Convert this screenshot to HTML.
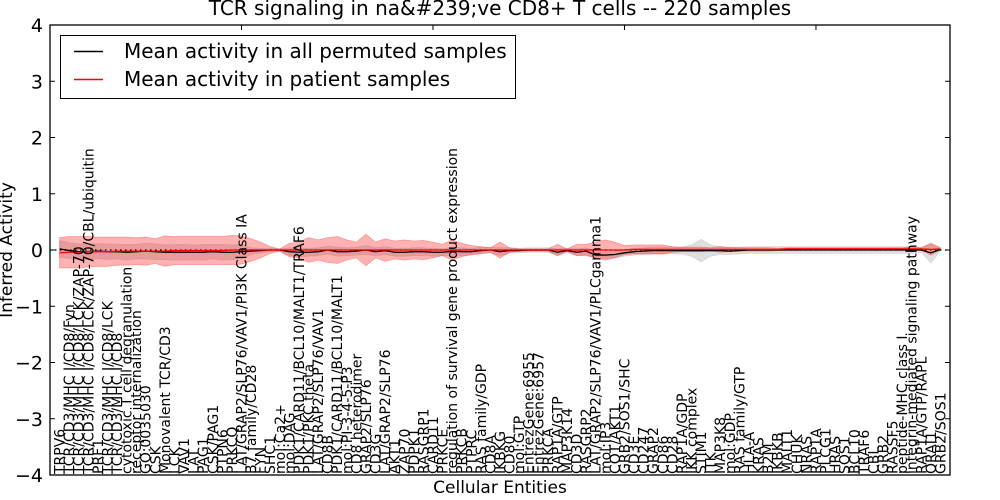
<!DOCTYPE html>
<html><head><meta charset="utf-8"><style>
body{margin:0;background:#fff}
svg{display:block;font-family:"DejaVu Sans","Liberation Sans",sans-serif}
</style></head><body>
<svg id="chart" width="1000" height="500" viewBox="0 0 1000 500" xmlns="http://www.w3.org/2000/svg">
<rect width="1000" height="500" fill="#fff"/>
<text x="500" y="15" text-anchor="middle" font-size="20">TCR signaling in na&amp;#239;ve CD8+ T cells -- 220 samples</text>
<g id="bands"></g>
<g id="lines"></g>
<g id="labels"></g>
<g id="axes"></g>
<text x="500" y="493" text-anchor="middle" font-size="17">Cellular Entities</text>
<text x="0" y="0" transform="translate(12,250) rotate(-90)" text-anchor="middle" font-size="17">Inferred Activity</text>
<g>
<rect x="60.5" y="35.5" width="455" height="63" fill="#fff" stroke="#000" stroke-width="1"/>
<line x1="74" y1="51.5" x2="103" y2="51.5" stroke="#000" stroke-width="1.5"/>
<text x="124" y="58" font-size="20">Mean activity in all permuted samples</text>
<line x1="74" y1="79.5" x2="103" y2="79.5" stroke="#f00" stroke-width="1.5"/>
<text x="124" y="86" font-size="20">Mean activity in patient samples</text>
</g>
</svg>
<script>
const categories = ["TRPV6","TCR/CD3/MHC I/CD8/Fyn","TCR/CD3/MHC I/CD8/LCK/ZAP-70","TCR/CD3/MHC I/CD8/LCK/ZAP-70/CBL/ubiquitin","PRF1","TCR/CD3/MHC I/CD8/LCK","TCR/CD3/MHC I/CD8","cytotoxic T cell degranulation","receptor internalization","GO:0035030","CSK","Monovalent TCR/CD3","LCK","VAV1","LAT","PAG1","CSK/PAG1","PTPN6","PRKCQ","LAT/GRAP2/SLP76/VAV1/PI3K Class IA","B7 family/CD28","FYN","SHC1","mol:Ca2+","mol:DAG","PDK1/CARD11/BCL10/MALT1/TRAF6","PDK1/PKC theta","LAT/GRAP2/SLP76/VAV1","CD8B","PDK1/CARD11/BCL10/MALT1","mol:PI-3-4-5-P3","CD8 heterodimer","GRAP2/SLP76","CD3G","LAT/GRAP2/SLP76","AKT1","ZAP70","PDPK1","RASGRP1","CARD11","PRKCE","regulation of survival gene product expression","PRKCB","PTPRC","RAS family/GDP","CD8A","IKBKG","CD80","mol:GTP","EntrezGene:6955","EntrezGene:6957","PRKCA","RAP1A/GTP","MAP3K14","CD3D","RASGRP2","LAT/GRAP2/SLP76/VAV1/PLCgamma1","mol:IP3","COT/AKT1","GRB2/SOS1/SHC","CD3E","CD247","GRAP2","CD86","CD28","RAP1A/GDP","IKK complex","STIM1","ITK","MAP3K8","mol:GDP","RAS family/GTP","HLA-A","KRAS","B2M","IKBKB","MALT1","CHUK","NRAS","RAP1A","PLCG1","HRAS","SOS1","BCL10","TRAF6","CBL","GRB2","RASSF5","peptide-MHC class I","integrin-mediated signaling pathway","RAP1A/GTP/RAPL","ORAI1","GRB2/SOS1"];
const patientMean = [-0.05,-0.04,-0.04,-0.03,-0.03,-0.03,-0.02,-0.02,-0.02,-0.02,-0.02,-0.02,-0.01,-0.01,-0.01,-0.01,-0.01,-0.01,0.0,0.0,0.0,0.0,0.0,0.0,0.0,0.0,0.0,0.0,0.0,0.0,0.0,0.0,0.0,0.0,0.0,0.0,0.0,0.0,0.0,0.0,0.0,0.0,0.0,0.0,0.0,0.0,0.0,0.0,0.0,0.0,0.0,0.0,0.0,0.0,0.0,0.0,0.0,0.0,0.0,0.0,0.01,0.01,0.01,0.01,0.01,0.01,0.01,0.01,0.01,0.01,0.01,0.01,0.01,0.01,0.01,0.01,0.02,0.02,0.02,0.02,0.02,0.02,0.02,0.02,0.02,0.02,0.02,0.02,0.02,0.02,0.02,0.01,0.02];
const patientSpread = [0.27,0.28,0.28,0.27,0.26,0.26,0.25,0.25,0.24,0.25,0.22,0.27,0.25,0.25,0.25,0.25,0.25,0.25,0.26,0.25,0.2,0.14,0.06,0.02,0.12,0.14,0.22,0.18,0.22,0.24,0.18,0.14,0.28,0.14,0.2,0.16,0.18,0.16,0.17,0.14,0.1,0.18,0.12,0.08,0.06,0.04,0.14,0.04,0.02,0.02,0.02,0.02,0.1,0.02,0.1,0.1,0.14,0.18,0.14,0.08,0.08,0.08,0.08,0.08,0.05,0.04,0.04,0.04,0.03,0.05,0.04,0.03,0.03,0.03,0.03,0.02,0.02,0.02,0.02,0.02,0.02,0.02,0.02,0.02,0.02,0.02,0.02,0.02,0.02,0.04,0.02,0.1,0.02];
const permutedMean = [0.02,-0.01,-0.03,-0.03,-0.02,-0.03,-0.03,-0.04,-0.03,-0.02,-0.03,-0.04,-0.04,-0.04,-0.04,-0.04,-0.03,-0.04,-0.04,-0.03,-0.02,-0.01,0.0,0.0,-0.03,-0.04,-0.04,-0.03,0.0,-0.03,-0.03,-0.02,0.0,-0.03,-0.01,-0.04,-0.04,-0.03,-0.03,-0.04,-0.04,-0.02,-0.03,-0.03,-0.01,0.0,-0.03,-0.01,-0.01,0.0,0.0,0.0,-0.04,-0.01,-0.04,-0.02,-0.09,-0.09,-0.08,-0.05,-0.03,-0.02,-0.01,-0.01,-0.01,-0.01,-0.01,-0.01,-0.01,-0.01,-0.02,-0.01,0.0,0.0,0.0,0.0,0.0,0.0,0.0,0.0,0.0,0.0,0.0,0.0,0.0,0.0,0.0,0.0,0.0,0.0,0.0,-0.05,0.01];
const permutedSpread = [0.15,0.14,0.14,0.14,0.13,0.14,0.13,0.14,0.13,0.14,0.14,0.13,0.14,0.14,0.13,0.14,0.13,0.14,0.13,0.13,0.06,0.04,0.03,0.02,0.07,0.08,0.07,0.07,0.07,0.08,0.07,0.07,0.08,0.07,0.07,0.07,0.07,0.07,0.07,0.07,0.06,0.07,0.07,0.06,0.06,0.05,0.07,0.05,0.04,0.04,0.04,0.04,0.06,0.04,0.06,0.06,0.06,0.06,0.06,0.06,0.06,0.06,0.06,0.06,0.06,0.06,0.1,0.2,0.1,0.07,0.06,0.06,0.06,0.06,0.06,0.06,0.06,0.06,0.06,0.06,0.06,0.06,0.06,0.06,0.06,0.06,0.06,0.06,0.06,0.06,0.04,0.18,0.03];
const yTicks = [-4,-3,-2,-1,0,1,2,3,4];
const xTopTicks = [20,40,60,80];

const L=50,R=950,T=25,B=475;
const xs = i => L + (i+1)*(R-L)/94;
const xv = v => L + v*(R-L)/94;
const ys = v => T + (4-v)*(B-T)/8;
const NS="http://www.w3.org/2000/svg";
function mk(tag, attrs, parent){const e=document.createElementNS(NS,tag);for(const k in attrs)e.setAttribute(k,attrs[k]);parent.appendChild(e);return e;}

const bands=document.getElementById('bands');
function band(mean,spread,fill,op,name){
  let up=[],dn=[];
  mean.forEach((m,i)=>{up.push(xs(i)+','+ys(m+spread[i]));dn.unshift(xs(i)+','+ys(m-spread[i]));});
  const p=mk('polygon',{points:up.concat(dn).join(' '),fill:fill,'fill-opacity':op,stroke:fill,'stroke-opacity':op,'stroke-width':0.8},bands);
  
  
}
band(permutedMean,permutedSpread,'#b8b8b8',0.45,'permuted-spread-band');
band(patientMean,patientSpread,'#ff0000',0.3,'patient-spread-band');

const lines=document.getElementById('lines');
const zl=mk('line',{x1:L,x2:R,y1:ys(0),y2:ys(0),stroke:'#000','stroke-width':1.2,'stroke-dasharray':'1.5,3.5'},lines);


function line(arr,color,name){
  const p=mk('polyline',{points:arr.map((v,i)=>xs(i)+','+ys(v)).join(' '),fill:'none',stroke:color,'stroke-width':1.3},lines);
  
  
}
line(permutedMean,'#000','permuted-mean-line');
line(patientMean,'#ff0000','patient-mean-line');

const labels=document.getElementById('labels');
categories.forEach((c,i)=>{
  const t=mk('text',{transform:`translate(${xs(i)+5},474) rotate(-90)`,'font-size':14},labels);
  
  
  t.textContent=c;
});

const axes=document.getElementById('axes');
const fr=mk('rect',{x:L,y:T,width:R-L,height:B-T,fill:'none',stroke:'#000','stroke-width':1.3},axes);


yTicks.forEach(v=>{
  mk('line',{x1:L,x2:L+5,y1:ys(v),y2:ys(v),stroke:'#000'},axes);
  mk('line',{x1:R-5,x2:R,y1:ys(v),y2:ys(v),stroke:'#000'},axes);
  const t=mk('text',{x:L-7,y:ys(v)+7,'text-anchor':'end','font-size':19},axes);
  
  
  t.textContent=(v<0?'\u2212'+(-v):v);
});
xTopTicks.forEach(v=>{
  const tk=mk('line',{x1:xv(v),x2:xv(v),y1:T,y2:T+5,stroke:'#000'},axes);
  
  
});
</script>
</body></html>
